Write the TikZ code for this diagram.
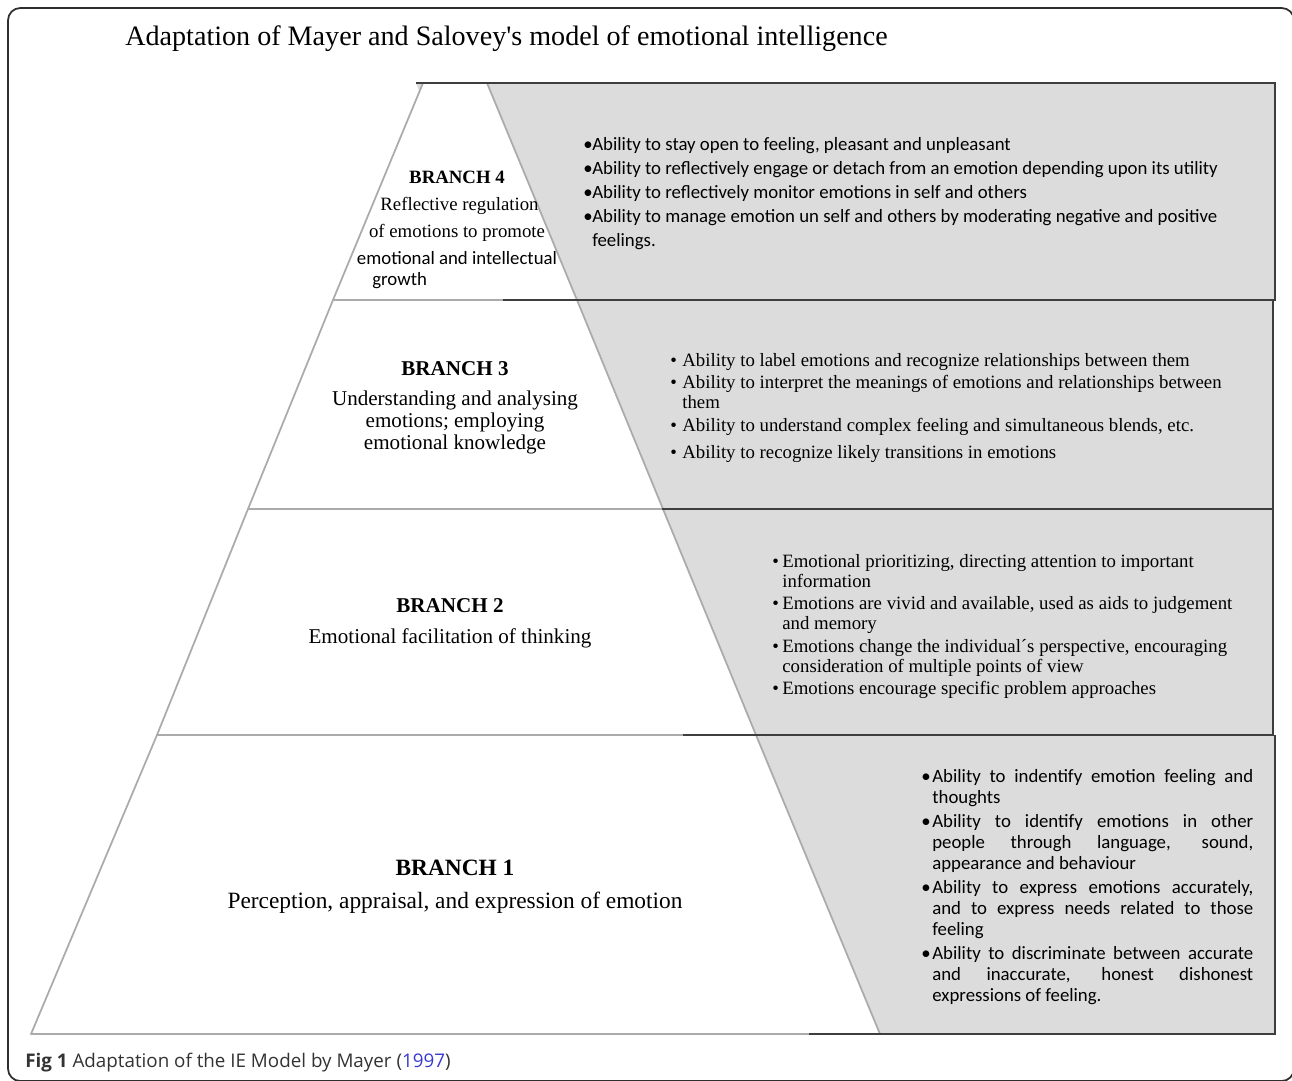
\documentclass[tikz,border=0pt]{standalone}
\usepackage{fontspec}
\setmainfont{Liberation Serif}
\newfontfamily\calib{Carlito}
\newfontfamily\capsans{Open Sans}

\definecolor{panelgray}{HTML}{DCDCDC}
\definecolor{rimgray}{HTML}{ABABAB}
\definecolor{darkrim}{HTML}{3E3E3E}
\definecolor{framegray}{HTML}{2E2E2E}
\definecolor{captext}{HTML}{333333}
\definecolor{capblue}{HTML}{3A3AD0}

\newcommand\fs[2]{\fontsize{#1}{#2}\selectfont}
\newcommand\bul[1]{\makebox[#1][l]{\textbullet}}
\newcommand\jl[1]{\makebox[6.42cm][s]{#1}}

\tikzset{
  panel/.style={fill=panelgray, draw=none},
  tier/.style={fill=white, draw=rimgray, line width=1pt, line join=round},
  rim/.style={draw=darkrim, line width=1.1pt},
  head/.style={align=center, inner sep=0pt, anchor=base},
  list/.style={align=left, inner sep=0pt, anchor=base west},
}

\begin{document}
\begin{tikzpicture}[x=0.02cm, y=-0.02cm]
  \useasboundingbox (0,0) rectangle (1292,1080);
  \clip (0,0) rectangle (1292,1080);
  % outer frame
  \draw[framegray, line width=1pt, rounded corners=7pt] (8,8) rectangle (1294,1081);

  % title
  \node[anchor=base west, inner sep=0pt] (title) at (125,45)
    {\fs{16}{19}Adaptation of Mayer and Salovey\textquotesingle s model of emotional intelligence};

  % gray panels behind the pyramid
  \fill[panel] (416,83) -- (1275,83) -- (1275,300) -- (503,300) -- cycle;
  \fill[panel] (503,300) -- (1273,300) -- (1273,509) -- (590,509) -- cycle;
  \fill[panel] (590,509) -- (1273,509) -- (1273,735) -- (683,735) -- cycle;
  \fill[panel] (683,735) -- (1275,735) -- (1275,1034) -- (809,1034) -- cycle;

  % white tiers of the pyramid
  \draw[tier] (423,83) -- (487,83) -- (577,300) -- (333,300) -- cycle;
  \draw[tier] (333,300) -- (577,300) -- (663,509) -- (248,509) -- cycle;
  \draw[tier] (248,509) -- (663,509) -- (756,735) -- (157,735) -- cycle;
  \draw[tier] (157,735) -- (756,735) -- (880,1034) -- (31,1034) -- cycle;

  % dark borders of the panels
  \draw[rim] (416,83) -- (1275,83) -- (1275,300) -- (503,300);
  \draw[rim] (1273,300) -- (1273,509) -- (662,509);
  \draw[rim] (1273,509) -- (1273,735) -- (683,735);
  \draw[rim] (1275,735) -- (1275,1034) -- (809,1034);

  % branch 4 (nodes sit on the baseline of their last line)
  \node[head, font=\fs{10.7}{15.3}] (b4) at (457,264)
    {\textbf{BRANCH 4}\\\hspace*{0.1cm}Reflective regulation\\of emotions to promote\\{\calib emotional and intellectual}};
  \node[list, font=\calib\fs{10.7}{12}] (b4g) at (372,285) {growth};
  \node[list, font=\calib\fs{10.7}{13.6}] (p4) at (583,246)
    {\bul{0.18cm}Ability to stay open to feeling, pleasant and unpleasant\\
     \bul{0.18cm}Ability to reflectively engage or detach from an emotion depending upon its utility\\
     \bul{0.18cm}Ability to reflectively monitor emotions in self and others\\
     \bul{0.18cm}Ability to manage emotion un self and others by moderating negative and positive\\
     \hspace*{0.18cm}feelings.};

  % branch 3
  \node[head, font=\fs{12}{12.5}] (b3) at (455,449)
    {\textbf{BRANCH 3}\\[4.5pt]Understanding and analysing\\emotions; employing\\emotional knowledge};
  \node[list, font=\fs{10.7}{11.3}] (p3) at (670,458)
    {\bul{0.24cm}Ability to label emotions and recognize relationships between them\\[1.2pt]
     \bul{0.24cm}Ability to interpret the meanings of emotions and relationships between\\
     \hspace*{0.24cm}them\\[1.7pt]
     \bul{0.24cm}Ability to understand complex feeling and simultaneous blends, etc.\\[4pt]
     \bul{0.24cm}Ability to recognize likely transitions in emotions};

  % branch 2
  \node[head, font=\fs{12}{17.6}] (b2) at (450,643)
    {\textbf{BRANCH 2}\\Emotional facilitation of thinking};
  \node[list, font=\fs{10.7}{11.3}] (p2) at (772,694)
    {\bul{0.2cm}Emotional prioritizing, directing attention to important\\
     \hspace*{0.2cm}information\\[1.2pt]
     \bul{0.2cm}Emotions are vivid and available, used as aids to judgement\\
     \hspace*{0.2cm}and memory\\[1.7pt]
     \bul{0.2cm}Emotions change the individual´s perspective, encouraging\\
     \hspace*{0.2cm}consideration of multiple points of view\\[1.2pt]
     \bul{0.2cm}Emotions encourage specific problem approaches};

  % branch 1
  \node[head, font=\fs{13.3}{18.7}] (b1) at (455,908)
    {\textbf{BRANCH 1}\\Perception, appraisal, and expression of emotion};
  \node[list, font=\calib\fs{10.7}{11.9}] (p1) at (921,1001)
    {\bul{0.22cm}\jl{Ability to indentify emotion feeling and}\\
     \hspace*{0.22cm}thoughts\\[1.7pt]
     \bul{0.22cm}\jl{Ability to identify emotions in other}\\
     \hspace*{0.22cm}\jl{people through language, sound,}\\
     \hspace*{0.22cm}appearance and behaviour\\[1.7pt]
     \bul{0.22cm}\jl{Ability to express emotions accurately,}\\
     \hspace*{0.22cm}\jl{and to express needs related to those}\\
     \hspace*{0.22cm}feeling\\[1.7pt]
     \bul{0.22cm}\jl{Ability to discriminate between accurate}\\
     \hspace*{0.22cm}\jl{and inaccurate, honest dishonest}\\
     \hspace*{0.22cm}expressions of feeling.};

  % caption
  \node[list, font=\capsans\fs{10.7}{12}, text=captext] (cap) at (25,1067)
    {\textbf{Fig 1} Adaptation of the IE Model by Mayer (\textcolor{capblue}{1997})};
\end{tikzpicture}
\end{document}
